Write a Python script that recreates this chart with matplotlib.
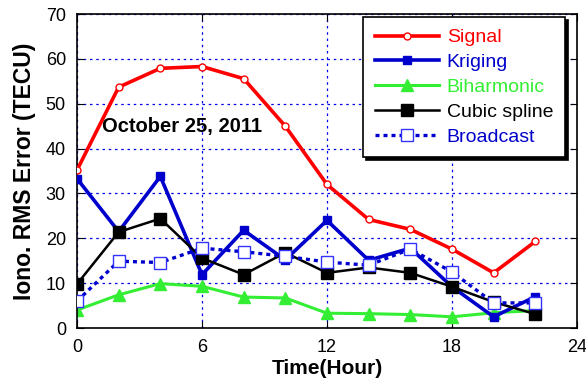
import matplotlib
matplotlib.use("Agg")
import matplotlib.pyplot as plt
import numpy as np

plt.rcParams['font.family'] = ['Liberation Sans', 'DejaVu Sans']

hours = [0, 2, 4, 6, 8, 10, 12, 14, 16, 18, 20, 22]
signal = [35.2, 53.7, 57.9, 58.3, 55.6, 45.0, 32.0, 24.2, 22.0, 17.6, 12.3, 19.3]
kriging = [33.3, 21.5, 33.8, 11.9, 21.8, 15.2, 24.0, 15.1, 17.8, 9.2, 2.5, 7.0]
biharmonic = [4.0, 7.4, 9.9, 9.3, 6.9, 6.7, 3.3, 3.2, 3.0, 2.5, 3.4, 3.9]
cubic = [9.8, 21.4, 24.4, 15.6, 11.9, 16.8, 12.3, 13.5, 12.3, 9.2, 5.8, 3.1]
broadcast = [6.0, 14.9, 14.6, 17.8, 17.0, 16.0, 14.7, 14.0, 17.6, 12.5, 5.6, 5.6]

fig = plt.figure(figsize=(5.86, 3.8), dpi=100)
ax = fig.add_axes([0.1314, 0.1368, 0.8532, 0.8262])

ax.plot(hours, signal, color='#ff0000', lw=2.6, marker='o', ms=5,
        mfc='white', mec='#ff0000', mew=1, label='Signal', zorder=5)
ax.plot(hours, kriging, color='#0000cc', lw=2.6, marker='s', ms=6,
        mfc='#0000cc', mec='#0000cc', label='Kriging', zorder=3)
ax.plot(hours, biharmonic, color='#33ee33', lw=2.2, marker='^', ms=8,
        mfc='#33ee33', mec='#33ee33', label='Biharmonic', zorder=2)
ax.plot(hours, cubic, color='black', lw=1.8, marker='s', ms=9,
        mfc='black', mec='black', label='Cubic spline', zorder=4)
ax.plot(hours, broadcast, color='#0000cc', lw=2.4, ls=(0, (1.2, 1.2)),
        marker='s', ms=8, mfc='white', mec='#3333ff', mew=1,
        label='Broadcast', zorder=4.5)

ax.set_xlim(0, 24)
ax.set_ylim(0, 70)
ax.set_xticks([0, 6, 12, 18, 24])
ax.set_yticks(np.arange(0, 71, 10))
ax.grid(True, color='#0000ee', ls=(0, (2, 3)), lw=0.9)
ax.tick_params(direction='in', labelsize=13, length=5, top=True, right=True, pad=8)
for sp in ax.spines.values():
    sp.set_linewidth(1.2)

ax.set_xlabel('Time(Hour)', fontsize=15, fontweight='bold', labelpad=2)
ax.set_ylabel('Iono. RMS Error (TECU)', fontsize=16.5, fontweight='bold', labelpad=7)

ax.text(1.2, 45.0, 'October 25, 2011', fontsize=14.5, fontweight='bold',
        va='center', ha='left', zorder=6)

leg = ax.legend(loc='upper right', bbox_to_anchor=(0.976, 0.99), fontsize=14,
                frameon=True, fancybox=False,
                shadow={'color': 'black', 'alpha': 1.0},
                borderpad=0.6, handlelength=3.3, labelspacing=0.37,
                handletextpad=0.4, borderaxespad=0)
leg.get_frame().set_edgecolor('black')
leg.get_frame().set_linewidth(1.2)
for txt, line in zip(leg.get_texts(), leg.get_lines()):
    txt.set_color(line.get_color())

fig.savefig('out.png', dpi=100)
